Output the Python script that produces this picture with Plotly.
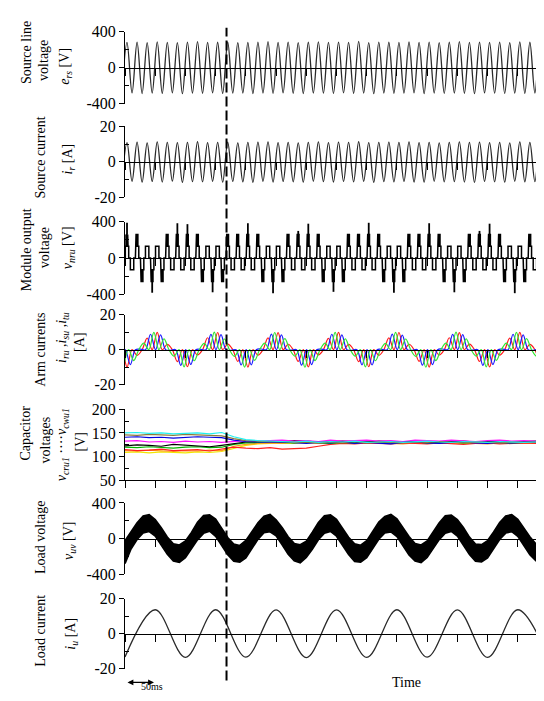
import numpy as np
import plotly.graph_objects as go

# ---------------- data ----------------
t_end_ms = 700
tick_step_ms = 50
source_period_ms = 1000 / 60
step_time_ms = 168          # time of the dashed marker

# Source line voltage e_rs [V]: successive troughs and crests of each 60 Hz cycle
src_first_trough_ms = -5.0
src_first_crest_ms = 3.33
src_v_troughs = [-282, -279, -286, -280, -284, -278, -288, -281, -283, -279, -285,
                 -282, -280, -287, -281, -284, -279, -283, -286, -280, -282, -285,
                 -279, -284, -281, -288, -280, -283, -282, -279, -286, -281, -284,
                 -280, -283, -287, -279, -282, -285, -281, -284, -280, -283]
src_v_crests = [280, 284, 278, 286, 281, 279, 283, 290, 280, 282, 285, 279, 281,
                284, 288, 280, 283, 279, 282, 286, 280, 283, 281, 292, 279, 284,
                282, 280, 285, 281, 283, 279, 282, 288, 280, 284, 281, 283, 279,
                286, 282, 280, 284]
# Source current i_r [A]
src_i_troughs = [-11.2, -10.9, -11.4, -11.0, -11.3, -10.8, -11.5, -11.1, -11.2,
                 -10.9, -11.4, -11.0, -11.2, -11.5, -10.9, -11.3, -11.0, -11.2,
                 -11.4, -10.9, -11.1, -11.3, -11.0, -11.2, -10.9, -11.5, -11.1,
                 -11.2, -11.0, -11.3, -11.4, -10.9, -11.2, -11.1, -11.3, -11.5,
                 -11.0, -11.2, -11.4, -10.9, -11.2, -11.1, -11.3]
src_i_crests = [10.8, 11.1, 10.7, 11.2, 10.9, 10.8, 11.0, 11.3, 10.8, 11.0, 11.1,
                10.7, 10.9, 11.1, 11.2, 10.8, 11.0, 10.7, 11.0, 11.2, 10.8, 11.1,
                10.9, 11.3, 10.8, 11.0, 11.1, 10.9, 11.2, 10.8, 11.0, 10.7, 11.0,
                11.2, 10.9, 11.1, 10.8, 11.0, 10.7, 11.2, 11.0, 10.8, 11.1]

# Module output voltage v_nru [V]: crest of every positive and negative pulse
mod_first_pos_ms = 3.33
mod_first_neg_ms = 11.67
mod_level_v = 130
mod_pos_peaks = [390, 270, 150, 135, 270, 385,
                 375, 280, 145, 140, 260, 290,
                 385, 275, 150, 135, 265, 300,
                 380, 270, 155, 140, 270, 295,
                 390, 280, 150, 135, 260, 285,
                 385, 275, 145, 140, 265, 300,
                 380, 270, 150, 135, 270, 290]
mod_neg_peaks = [-145, -265, -385, -270, -150, -135,
                 -150, -260, -380, -275, -145, -140,
                 -145, -270, -390, -265, -150, -135,
                 -140, -265, -375, -270, -155, -135,
                 -150, -260, -385, -275, -145, -140,
                 -145, -265, -380, -270, -150, -135,
                 -150, -270, -390, -265, -145, -140]

# Arm currents [A]: crest of each 60 Hz ripple (ripple returns to 0 between crests)
arm_first_ms = [-13.33, -7.78, -2.22]
arm_ru = [-6.5, -9.8, -3.2, 6.6, 9.9, 3.0, -6.8, -9.7, -3.0, 6.8, 9.8, 3.2,
          -6.6, -9.9, -3.1, 6.7, 9.7, 3.1, -6.7, -9.8, -2.9, 6.5, 9.9, 3.0,
          -6.8, -9.7, -3.2, 6.7, 9.8, 3.1, -6.6, -9.9, -3.0, 6.8, 9.7, 3.2,
          -6.7, -9.8, -3.1, 6.6, 9.9, 3.0, -6.7, -9.8]
arm_su = [-8.8, -8.5, 0.3, 8.8, 8.5, -0.3, -8.9, -8.4, 0.2, 8.7, 8.6, -0.4,
          -8.7, -8.6, 0.4, 8.9, 8.4, -0.2, -8.8, -8.5, 0.3, 8.8, 8.5, -0.3,
          -8.6, -8.7, 0.2, 8.9, 8.3, -0.3, -8.8, -8.5, 0.4, 8.7, 8.6, -0.2,
          -8.9, -8.4, 0.3, 8.8, 8.5, -0.3, -8.8, -8.5]
arm_tu = [-9.9, -6.2, 3.7, 9.9, 6.2, -3.7, -9.8, -6.3, 3.6, 10.0, 6.1, -3.8,
          -9.9, -6.1, 3.8, 9.8, 6.3, -3.6, -10.0, -6.2, 3.7, 9.9, 6.2, -3.7,
          -9.8, -6.3, 3.6, 9.9, 6.1, -3.8, -9.9, -6.2, 3.7, 10.0, 6.2, -3.6,
          -9.8, -6.1, 3.8, 9.9, 6.3, -3.7, -9.9, -6.2]

# Capacitor voltages [V], one value every 20 ms
cap_step_ms = 20
cap_cyan = [150, 151, 149, 150, 148, 149, 150, 148, 151, 142, 136, 134, 133, 132, 131, 133, 130, 132,
            131, 133, 130, 131, 132, 130, 131, 133, 131, 130, 132, 131, 130, 132, 131, 130, 131, 132]
cap_olive = [146, 145, 147, 146, 145, 147, 146, 145, 144, 138, 134, 133, 131, 132, 130, 131, 129, 131,
             130, 132, 129, 131, 130, 129, 131, 130, 132, 130, 129, 131, 130, 129, 131, 130, 131, 130]
cap_blue = [141, 142, 140, 141, 139, 140, 142, 141, 140, 135, 132, 131, 130, 131, 129, 128, 130, 129,
            131, 128, 130, 129, 127, 130, 131, 129, 128, 130, 131, 129, 128, 130, 129, 130, 131, 129]
cap_magenta = [133, 134, 131, 132, 130, 133, 131, 132, 130, 132, 134, 133, 134, 135, 133, 134, 132, 135,
               133, 134, 135, 133, 134, 132, 135, 134, 133, 135, 134, 132, 134, 135, 133, 134, 133, 134]
cap_black = [123, 125, 124, 122, 126, 124, 123, 121, 124, 128, 131, 132, 133, 132, 134, 133, 131, 132,
             133, 132, 131, 133, 132, 131, 133, 132, 130, 132, 133, 131, 132, 133, 131, 132, 133, 132]
cap_green = [120, 119, 121, 120, 118, 120, 121, 119, 120, 126, 129, 130, 131, 130, 129, 131, 130, 128,
             130, 129, 131, 130, 129, 130, 131, 129, 130, 131, 129, 130, 131, 130, 129, 130, 131, 130]
cap_red = [115, 113, 114, 116, 113, 114, 115, 112, 116, 120, 118, 117, 119, 116, 117, 118, 122, 126,
           128, 127, 129, 128, 127, 129, 128, 127, 129, 128, 126, 128, 129, 127, 128, 129, 128, 127]
cap_orange = [113, 112, 114, 112, 111, 113, 112, 114, 113, 122, 126, 128, 129, 128, 130, 129, 128, 130,
              129, 128, 130, 129, 128, 127, 129, 130, 128, 129, 130, 128, 127, 129, 130, 128, 129, 128]
cap_yellow = [109, 110, 108, 110, 109, 108, 110, 109, 111, 118, 124, 127, 128, 129, 128, 130, 129, 128,
              130, 129, 128, 130, 129, 128, 130, 129, 131, 129, 128, 130, 129, 128, 130, 129, 128, 130]

# Load voltage v_uv [V]: upper and lower edge of the switching band, every 10 ms
lv_step_ms = 10
lv_upper = [-25, 72, 178, 252, 268, 212, 122, 18, -58, -72,
            -28, 68, 182, 258, 265, 218, 118, 12, -62, -78,
            -22, 75, 176, 250, 272, 210, 125, 20, -55, -70,
            -30, 70, 180, 255, 266, 215, 120, 15, -60, -75,
            -24, 74, 184, 248, 270, 220, 116, 22, -57, -73,
            -27, 69, 177, 256, 262, 213, 124, 16, -61, -69,
            -23, 73, 181, 253, 269, 216, 119, 19, -59, -76,
            -26]
lv_lower = [-282, -118, -12, 62, 78, 28, -72, -178, -252, -268,
            -215, -120, -15, 58, 82, 24, -76, -182, -256, -265,
            -218, -116, -10, 65, 76, 30, -70, -176, -250, -272,
            -212, -122, -14, 60, 80, 26, -74, -180, -258, -266,
            -216, -118, -8, 63, 75, 22, -78, -184, -253, -270,
            -214, -121, -13, 59, 79, 27, -71, -179, -255, -263,
            -217, -117, -11, 61, 77, 25, -73, -181, -251, -269,
            -216]

# Load current i_u [A]: extremes every 50 ms
li_step_ms = 50
li_extremes = [-13.3, 13.6, -13.5, 13.6, -13.4, 13.5, -13.6, 13.5,
               -13.5, 13.6, -13.4, 13.5, -13.5, 13.6, -13.4]

# ---------------- layout constants ----------------
W, H = 544, 701
X0, X1 = 117, 540
SERIF = "Liberation Serif, Times New Roman, serif"
panels = [  # (top px, bottom px, ymin, ymax, major ticks, minor ticks)
    (16, 90, -400, 400, [-400, 0, 400], [-200, 200]),
    (113, 186, -20, 20, [-20, 0, 20], [-10, 10]),
    (211, 285, -400, 400, [-400, 0, 400], [-200, 200]),
    (306, 378, -20, 20, [-20, 0, 20], [-10, 10]),
    (403, 476, 50, 200, [50, 100, 150, 200], [75, 125, 175]),
    (499, 572, -400, 400, [-400, 0, 400], [-200, 200]),
    (597, 669, -20, 20, [-20, 0, 20], [-10, 10]),
]

fig = go.Figure()


def merged_extremes(first_a, vals_a, first_b, vals_b, period):
    ta = [first_a + k * period for k in range(len(vals_a))]
    tb = [first_b + k * period for k in range(len(vals_b))]
    pts = sorted(zip(ta + tb, list(vals_a) + list(vals_b)))
    return [p[0] for p in pts], [p[1] for p in pts]


def add(tr, i):
    tr.update(xaxis="x" if i == 1 else f"x{i}", yaxis="y" if i == 1 else f"y{i}")
    fig.add_trace(tr)


WAVE = "#2a2a2a"
# 1 source voltage
tx, vy = merged_extremes(src_first_trough_ms, src_v_troughs, src_first_crest_ms, src_v_crests, source_period_ms)
add(go.Scatter(x=tx, y=vy, mode="lines", line=dict(color=WAVE, width=1.3, shape="spline"),
               showlegend=False, hoverinfo="skip"), 1)
# 2 source current
tx, iy = merged_extremes(src_first_trough_ms, src_i_troughs, src_first_crest_ms, src_i_crests, source_period_ms)
add(go.Scatter(x=tx, y=iy, mode="lines", line=dict(color=WAVE, width=1.3, shape="spline"),
               showlegend=False, hoverinfo="skip"), 2)

# 3 module output voltage: multilevel staircase built from pulse crests
pulses = sorted([(mod_first_pos_ms + k * source_period_ms, p) for k, p in enumerate(mod_pos_peaks)] +
                [(mod_first_neg_ms + k * source_period_ms, p) for k, p in enumerate(mod_neg_peaks)])
w1, w2, dsw = 2.8, 1.7, 0.2
mx, my = [0], [0]
sx, sy = [], []
for tc, p in pulses:
    s = 1 if p > 0 else -1
    a = abs(p)
    l1 = min(a, mod_level_v) if a < 1.5 * mod_level_v else mod_level_v
    mx += [tc - w1, tc - w1]
    my += [0, s * l1]
    if a >= 1.5 * mod_level_v:
        top = min(a, 2 * mod_level_v)
        tt = tc - w2
        mx += [tt]
        my += [s * l1]
        hi = True
        while tt < tc + w2:
            mx += [tt, tt + dsw]
            my += [s * (top if hi else l1)] * 2
            tt += dsw
            hi = not hi
        mx += [tt]
        my += [s * l1]
        if a > 2.3 * mod_level_v:
            sx += [tc, tc, None]
            sy += [s * top, s * a, None]
    mx += [tc + w1, tc + w1]
    my += [s * l1, 0]
mx += [t_end_ms]
my += [0]
add(go.Scatter(x=mx, y=my, mode="lines", line=dict(color="black", width=1.5),
               showlegend=False, hoverinfo="skip"), 3)
add(go.Scatter(x=sx, y=sy, mode="lines", line=dict(color="black", width=1.8),
               showlegend=False, hoverinfo="skip"), 3)

# 4 arm currents
for first, vals, col in zip(arm_first_ms, [arm_ru, arm_su, arm_tu], ["#FF1A1A", "#1A1AFF", "#33E633"]):
    ax_, ay_ = [], []
    for k, v in enumerate(vals):
        tk = first + k * source_period_ms
        ax_ += [tk, tk + source_period_ms / 2]
        ay_ += [v, 0]
    add(go.Scatter(x=ax_, y=ay_, mode="lines", line=dict(color=col, width=1.2, shape="spline"),
                   showlegend=False, hoverinfo="skip"), 4)

# 5 capacitor voltages
cap_series = [(cap_yellow, "#F2E600"), (cap_orange, "#FF9A1A"), (cap_red, "#FF2020"),
              (cap_green, "#00B400"), (cap_black, "#000000"), (cap_magenta, "#FF10FF"),
              (cap_blue, "#0000E0"), (cap_olive, "#8E7C3A"), (cap_cyan, "#20F0F0")]
for vals, col in cap_series:
    add(go.Scatter(x=[k * cap_step_ms for k in range(len(vals))], y=vals, mode="lines",
                   line=dict(color=col, width=1.2), showlegend=False, hoverinfo="skip"), 5)

# 6 load voltage band
lt = [k * lv_step_ms for k in range(len(lv_upper))]
add(go.Scatter(x=lt + lt[::-1], y=lv_upper + lv_lower[::-1], mode="lines", fill="toself",
               fillcolor="black", line=dict(color="black", width=1.6),
               showlegend=False, hoverinfo="skip"), 6)

# 7 load current
add(go.Scatter(x=[k * li_step_ms for k in range(len(li_extremes))], y=li_extremes, mode="lines",
               line=dict(color=WAVE, width=1.3, shape="spline"), showlegend=False, hoverinfo="skip"), 7)

# ---------------- axes ----------------
lay = {}
tickfont = dict(family=SERIF, size=16, color="black")
for i, (top, bot, lo, hi, major, minor) in enumerate(panels, start=1):
    dom = [1 - bot / H, 1 - top / H]
    zero_frac = dom[0] + (0 - lo) / (hi - lo) * (dom[1] - dom[0])
    xa = dict(domain=[X0 / W, X1 / W], range=[0, t_end_ms], tickmode="array",
              tickvals=list(range(0, t_end_ms + 1, tick_step_ms)), ticks="outside", ticklen=7,
              tickcolor="black", tickwidth=1, showticklabels=False, showline=True,
              linecolor="black", linewidth=1, showgrid=False, zeroline=False)
    if lo < 0:
        xa.update(anchor="free", position=zero_frac)
    else:
        xa.update(anchor="y" if i == 1 else f"y{i}")
    ya = dict(domain=dom, range=[lo, hi], anchor="x" if i == 1 else f"x{i}", tickmode="array",
              tickvals=major, ticktext=[str(v) for v in major], ticks="outside", ticklen=5,
              tickcolor="black", tickwidth=1, showline=True, linecolor="black", linewidth=1,
              showgrid=False, zeroline=False, tickfont=tickfont,
              minor=dict(tickmode="array", tickvals=minor, ticks="inside", ticklen=4,
                         tickcolor="black", tickwidth=1, showgrid=False))
    lay["xaxis" if i == 1 else f"xaxis{i}"] = xa
    lay["yaxis" if i == 1 else f"yaxis{i}"] = ya

fig.update_layout(**lay)

# ---------------- labels ----------------
lab = dict(family=SERIF, size=14, color="black")
labels = [
    (18, 38, "Source line"), (36, 46, "voltage"), (58, 52, "<i>e</i><sub><i>rs</i></sub> [V]"),
    (32, 145, "Source current"), (60, 147, "<i>i</i><sub><i>r</i></sub> [A]"),
    (18, 240, "Module output"), (36, 238, "voltage"), (60, 238, "<i>v</i><sub><i>nru</i></sub> [V]"),
    (33, 342, "Arm currents"),
    (55, 330, "<i>i</i><sub><i>ru</i></sub> ,<i>i</i><sub><i>su</i></sub> ,<i>i</i><sub><i>tu</i></sub>"),
    (72, 335, "[A]"),
    (18, 428, "Capacitor"), (37, 435, "voltages"),
    (54, 440, "<i>v</i><sub><i>cru1</i></sub> ····<i>v</i><sub><i>cwu1</i></sub>"), (72, 437, "[V]"),
    (32, 535, "Load voltage"), (62, 538, "<i>v</i><sub><i>uv</i></sub> [V]"),
    (33, 630, "Load current"), (64, 633, "<i>i</i><sub><i>u</i></sub> [A]"),
]
ann = []
for px, py, txt in labels:
    ann.append(dict(x=px / W, y=1 - py / H, xref="paper", yref="paper", text=txt, textangle=-90,
                    showarrow=False, font=lab, xanchor="center", yanchor="middle"))
ann.append(dict(x=146 / W, y=1 - 683 / H, xref="paper", yref="paper", text="", showarrow=True,
                ax=-28, ay=0, arrowhead=2, startarrowhead=2, arrowside="end+start",
                arrowwidth=1.3, arrowsize=0.9, arrowcolor="black"))
ann.append(dict(x=131 / W, y=1 - 695 / H, xref="paper", yref="paper", text="50ms", showarrow=False,
                font=dict(family=SERIF, size=10, color="black")))
ann.append(dict(x=415 / W, y=1 - 693 / H, xref="paper", yref="paper", text="Time", showarrow=False,
                font=dict(family=SERIF, size=14, color="black")))

fig.update_layout(
    width=W, height=H, margin=dict(l=0, r=0, t=0, b=0),
    paper_bgcolor="white", plot_bgcolor="white", showlegend=False,
    annotations=ann,
    shapes=[dict(type="line", xref="x", yref="paper", x0=step_time_ms, x1=step_time_ms,
                 y0=1 - 681 / H, y1=1 - 12 / H, layer="above",
                 line=dict(color="black", width=2, dash="10px,4px"))],
)

fig.write_html("out.html")
